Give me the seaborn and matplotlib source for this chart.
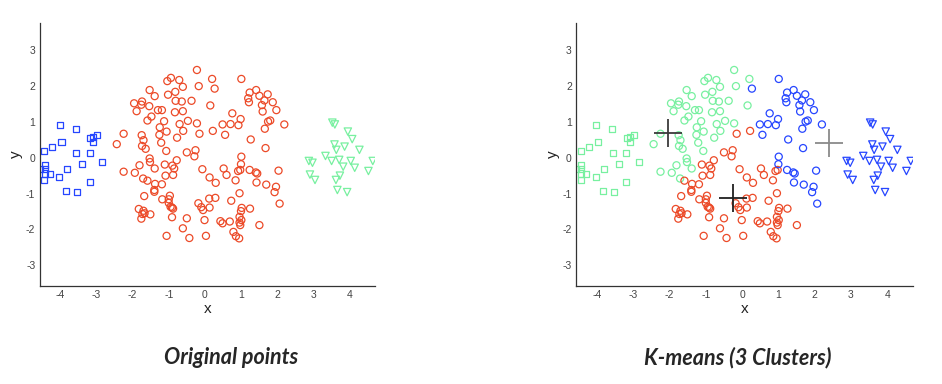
import numpy as np
import pandas as pd
import matplotlib
matplotlib.use("Agg")
import matplotlib.pyplot as plt
import seaborn as sns

# ---------------- data ----------------
# original class 1: squares
sq_x = [-4.02, -3.58, -2.99, -3.10, -3.17, -3.10, -3.97, -4.23, -4.45, -3.56, -3.19, -2.85,
        -3.39, -3.82, -4.43, -4.43, -4.58, -4.43, -4.30, -4.03, -4.45, -3.19, -3.84, -3.54]
sq_y = [0.91, 0.79, 0.64, 0.59, 0.56, 0.45, 0.45, 0.31, 0.20, 0.14, 0.14, -0.12,
        -0.18, -0.31, -0.20, -0.32, -0.32, -0.44, -0.46, -0.53, -0.62, -0.68, -0.92, -0.96]

# original class 3: triangles
tri_x = [3.53, 3.60, 3.96, 4.08, 3.59, 3.64, 3.87, 4.28, 3.34, 3.51, 3.72, 3.83,
         4.04, 4.15, 4.65, 4.53, 2.88, 2.98, 2.91, 3.05, 3.74, 3.63, 3.67, 3.94]
tri_y = [0.98, 0.93, 0.73, 0.52, 0.37, 0.22, 0.31, 0.22, 0.05, -0.09, -0.06, -0.25,
         -0.09, -0.28, -0.09, -0.37, -0.09, -0.14, -0.47, -0.62, -0.50, -0.62, -0.90, -0.96]

# original class 2: circles, grouped by the k-means cluster they fall in
circ_g_x = [-0.22, -0.94, -1.04, -0.71, 0.20, -0.61, -0.17, -1.53, -1.39, -1.02, -0.82, -1.96,
            -1.74, -1.76, -1.54, -1.89, -0.81, -0.64, -0.37, 0.15, -1.30, -1.19, -0.83, -0.61,
            -1.48, -1.59, -1.13, -0.47, -0.70, -0.22, -1.25, -1.26, -1.06, -0.60, -1.75, -1.70,
            -0.77, -1.74, -1.64, -1.21, -1.07, -1.53, -1.52, -1.81, -1.94, -1.39, -1.71, -2.44,
            -2.25, -2.25]
circ_g_y = [2.45, 2.23, 2.14, 2.17, 2.20, 1.98, 2.00, 1.89, 1.72, 1.76, 1.84, 1.52,
            1.57, 1.48, 1.44, 1.30, 1.59, 1.57, 1.59, 1.46, 1.33, 1.33, 1.27, 1.30,
            1.15, 1.04, 1.02, 1.03, 0.94, 0.96, 0.85, 0.64, 0.73, 0.75, 0.63, 0.49,
            0.56, 0.33, 0.25, 0.42, 0.19, -0.02, -0.12, -0.21, -0.42, -0.30, -0.58, 0.38,
            0.67, -0.39]

circ_r_x = [-0.15, 0.22, -0.50, -0.26, -0.29, -1.11, -0.78, -0.90, -0.85, -0.88, -1.09, -0.07,
            0.52, 0.92, 0.98, -1.59, 0.13, 0.30, 0.60, 0.85, -1.38, -1.19, -1.40, -1.40,
            -1.68, 0.96, -1.18, -0.97, -1.00, -1.00, -0.18, -0.10, -0.05, 0.12, 0.29, 0.13,
            0.73, -0.91, -0.95, -0.88, -1.83, -1.70, -1.67, -1.73, -1.51, -1.76, 1.02, 1.00,
            1.25, 0.96, 1.01, -0.91, -0.50, -0.01, 0.43, 0.49, 0.69, 0.96, 0.98, 1.51,
            -0.61, -1.06, -0.43, 0.03, 0.79, 0.86, 0.95]
circ_r_y = [0.67, 0.75, 0.15, 0.21, 0.04, -0.19, -0.07, -0.22, -0.30, -0.48, -0.50, -0.32,
            -0.30, -0.37, -0.34, -0.64, -0.55, -0.70, -0.48, -0.63, -0.73, -0.74, -0.90, -0.95,
            -1.07, -0.99, -1.16, -1.06, -1.16, -1.26, -1.27, -1.38, -1.46, -1.14, -1.12, -1.39,
            -1.20, -1.39, -1.37, -1.42, -1.43, -1.48, -1.55, -1.57, -1.58, -1.70, -1.40, -1.49,
            -1.42, -1.65, -1.74, -1.66, -1.69, -1.74, -1.77, -1.83, -1.78, -1.81, -1.88, -1.88,
            -1.97, -2.18, -2.24, -2.18, -2.07, -2.19, -2.25]

circ_b_x = [1.01, 0.27, 1.24, 1.42, 1.51, 1.74, 1.20, 1.22, 1.65, 1.88, 1.58, 0.76,
            1.60, 1.98, 0.49, 0.71, 0.99, 0.93, 1.75, 1.81, 2.20, 1.66, 0.56, 1.27,
            1.68, 1.01, 1.00, 1.24, 1.41, 1.45, 2.04, 1.43, 1.70, 1.97, 1.93, 2.07]
circ_b_y = [2.20, 1.93, 1.82, 1.89, 1.73, 1.77, 1.66, 1.55, 1.60, 1.55, 1.47, 1.24,
            1.29, 1.33, 0.93, 0.94, 1.08, 0.91, 1.01, 1.04, 0.93, 0.81, 0.64, 0.51,
            0.27, 0.03, -0.18, -0.34, -0.41, -0.44, -0.36, -0.69, -0.75, -0.81, -0.96, -1.28]

# k-means centroids (green, red, blue clusters)
cent_x = [-2.05, -0.25, 2.40]
cent_y = [0.68, -1.13, 0.42]

x_ticks = [-4, -3, -2, -1, 0, 1, 2, 3, 4]
y_ticks = [-3, -2, -1, 0, 1, 2, 3]
titles = ["Original points", "K-means (3 Clusters)"]

# ---------------- style ----------------
RED = "#EC4A28"
BLUE = "#2646FF"
GREEN = "#78F0A0"
CENT_COLORS = ["#3a3a3a", "#202020", "#8a8a8a"]

sns.set_style("white")
plt.rcParams["font.family"] = ["Liberation Sans", "DejaVu Sans"]

fig = plt.figure(figsize=(9.42, 3.84), dpi=100)
W, H = 942.0, 384.0
ax1 = fig.add_axes([39.5 / W, 98 / H, 335.8 / W, 263.3 / H])
ax2 = fig.add_axes([576 / W, 98 / H, 337.3 / W, 263.3 / H])

S_CIRC, S_SQ, S_TRI = 26, 19, 28
LW = 0.9


def pts(ax, x, y, marker, color, s):
    sns.scatterplot(x=x, y=y, ax=ax, marker=marker, s=s, facecolors="none",
                    edgecolors=color, linewidth=LW, legend=False)


# left: original classes
pts(ax1, sq_x, sq_y, "s", BLUE, S_SQ)
pts(ax1, circ_g_x + circ_r_x + circ_b_x, circ_g_y + circ_r_y + circ_b_y, "o", RED, S_CIRC)
pts(ax1, tri_x, tri_y, "v", GREEN, S_TRI)

# right: k-means clusters
pts(ax2, sq_x, sq_y, "s", GREEN, S_SQ)
pts(ax2, circ_g_x, circ_g_y, "o", GREEN, S_CIRC)
pts(ax2, circ_r_x, circ_r_y, "o", RED, S_CIRC)
pts(ax2, circ_b_x, circ_b_y, "o", BLUE, S_CIRC)
pts(ax2, tri_x, tri_y, "v", BLUE, S_TRI)
for cx, cy, cc in zip(cent_x, cent_y, CENT_COLORS):
    sns.scatterplot(x=[cx], y=[cy], ax=ax2, marker="+", s=420, color=cc,
                    linewidth=1.3, legend=False)

for ax in (ax1, ax2):
    ax.set_xlim(-4.58, 4.72)
    ax.set_ylim(-3.58, 3.77)
    ax.set_xticks(x_ticks)
    ax.set_yticks(y_ticks)
    ax.set_xticklabels([str(t) for t in x_ticks])
    ax.set_yticklabels([str(t) for t in y_ticks])
    for side in ("top", "right"):
        ax.spines[side].set_visible(False)
    for side in ("left", "bottom"):
        ax.spines[side].set_color("#333333")
        ax.spines[side].set_linewidth(0.9)
    ax.tick_params(direction="in", length=3, width=0.8, color="#333333",
                   labelsize=7.5, labelcolor="#444444", pad=3)
    ax.set_xlabel("x", fontsize=11, color="#222222", labelpad=1)
    ax.set_ylabel("y", fontsize=11, color="#222222", labelpad=2)
    ax.grid(False)

fig.text(231 / W, 1 - 358 / H, titles[0], ha="center", va="center",
         family=["Lato", "DejaVu Sans"], fontweight="bold", fontstyle="italic", fontsize=15.5)
fig.text(738 / W, 1 - 358 / H, titles[1], ha="center", va="center",
         family=["Lato", "DejaVu Sans"], fontweight="bold", fontstyle="italic", fontsize=15.5)

fig.savefig("out.png", dpi=100, facecolor="white")
